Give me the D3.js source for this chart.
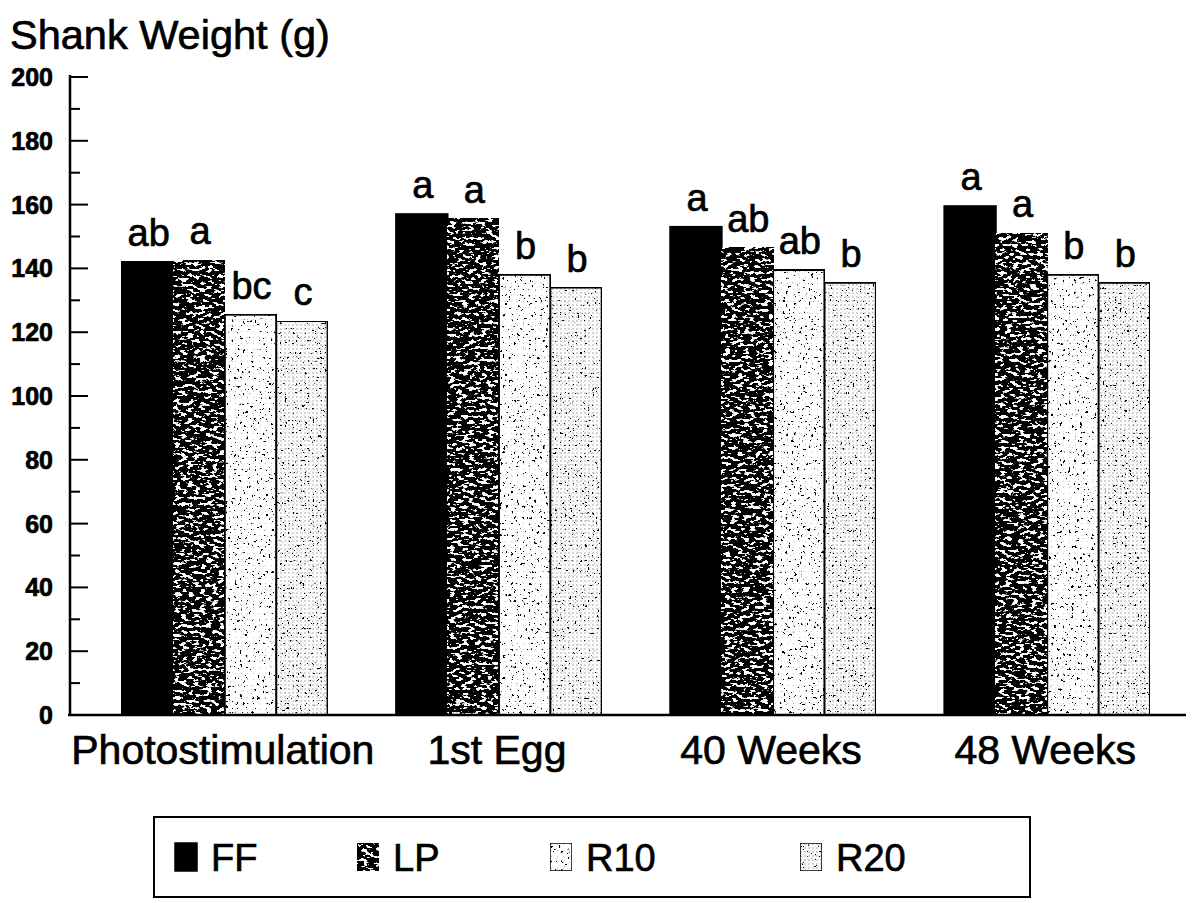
<!DOCTYPE html>
<html>
<head>
<meta charset="utf-8">
<script src="https://cdn.jsdelivr.net/npm/d3@7/dist/d3.min.js"></script>
<style>
  html, body { margin: 0; padding: 0; background: #fff; }
  svg { display: block; }
  text { font-family: "Liberation Sans", Arial, Helvetica, sans-serif; fill: #000; }
  text.heavy { stroke: #000; stroke-width: 0.7px; }
</style>
</head>
<body>
<svg id="chart" width="1193" height="903"></svg>
<script>
// Shank weight (g) by sampling age and feeding treatment
const ages = ["Photostimulation", "1st Egg", "40 Weeks", "48 Weeks"];
const treatments = ["FF", "LP", "R10", "R20"];

const ffWeight  = [142, 157, 153, 159.5];
const lpWeight  = [142.5, 155.5, 146.5, 151];
const r10Weight = [125.5, 138, 139.5, 138];
const r20Weight = [123.5, 134, 135.5, 135.5];

const ffLetters  = ["ab", "a", "a", "a"];
const lpLetters  = ["a", "a", "ab", "a"];
const r10Letters = ["bc", "b", "ab", "b"];
const r20Letters = ["c", "b", "b", "b"];

const yMajorTicks = [0, 20, 40, 60, 80, 100, 120, 140, 160, 180, 200];
const yMinorTicks = [10, 30, 50, 70, 90, 110, 130, 150, 170, 190];

const seriesValues = { FF: ffWeight, LP: lpWeight, R10: r10Weight, R20: r20Weight };
const seriesLetters = { FF: ffLetters, LP: lpLetters, R10: r10Letters, R20: r20Letters };

const rows = [];
ages.forEach((age, i) => {
  treatments.forEach(t => {
    rows.push({ age, treatment: t, value: seriesValues[t][i], letter: seriesLetters[t][i] });
  });
});

const svg = d3.select("#chart");

// ---- fills: solid, mottled, speckled, dotted ----
const defs = svg.append("defs");

// LP: black with small white mottles
const lpFilter = defs.append("filter").attr("id", "lp-tex")
  .attr("x", 0).attr("y", 0).attr("width", 1).attr("height", 1);
lpFilter.append("feTurbulence").attr("type", "fractalNoise")
  .attr("baseFrequency", "0.16 0.32").attr("numOctaves", 3).attr("seed", 7).attr("result", "noise");
lpFilter.append("feColorMatrix").attr("in", "noise").attr("type", "matrix")
  .attr("values", "0 0 0 0 1  0 0 0 0 1  0 0 0 0 1  -24 0 0 0 10.6").attr("result", "specks");
lpFilter.append("feComposite").attr("in", "specks").attr("in2", "SourceAlpha").attr("operator", "in").attr("result", "clipped");
const lpMerge = lpFilter.append("feMerge");
lpMerge.append("feMergeNode").attr("in", "SourceGraphic");
lpMerge.append("feMergeNode").attr("in", "clipped");

// sparse dark specks laid over a light fill
function speckFilter(id, freq, seed, gain, offset) {
  const f = defs.append("filter").attr("id", id)
    .attr("x", 0).attr("y", 0).attr("width", 1).attr("height", 1);
  f.append("feTurbulence").attr("type", "fractalNoise")
    .attr("baseFrequency", freq).attr("numOctaves", 2).attr("seed", seed).attr("result", "noise");
  f.append("feColorMatrix").attr("in", "noise").attr("type", "matrix")
    .attr("values", `0 0 0 0 0  0 0 0 0 0  0 0 0 0 0  ${gain} 0 0 0 ${offset}`).attr("result", "specks");
  f.append("feComposite").attr("in", "specks").attr("in2", "SourceAlpha").attr("operator", "in").attr("result", "clipped");
  const m = f.append("feMerge");
  m.append("feMergeNode").attr("in", "SourceGraphic");
  m.append("feMergeNode").attr("in", "clipped");
}
speckFilter("r10-tex", "0.35", 3, 30, -20.4);
speckFilter("r20-tex", "0.4", 11, 30, -20.7);

const r10Pat = defs.append("pattern").attr("id", "r10-dots")
  .attr("patternUnits", "userSpaceOnUse").attr("width", 6).attr("height", 6);
r10Pat.append("rect").attr("width", 6).attr("height", 6).attr("fill", "#fff");
r10Pat.append("circle").attr("cx", 1.5).attr("cy", 1.5).attr("r", 0.5).attr("fill", "#b0b0b0");

const r20Pat = defs.append("pattern").attr("id", "r20-dots")
  .attr("patternUnits", "userSpaceOnUse").attr("width", 4).attr("height", 4);
r20Pat.append("rect").attr("width", 4).attr("height", 4).attr("fill", "#fff");
r20Pat.append("circle").attr("cx", 1).attr("cy", 1).attr("r", 0.7).attr("fill", "#8a8a8a");
r20Pat.append("circle").attr("cx", 3).attr("cy", 3).attr("r", 0.45).attr("fill", "#c0c0c0");

const fillOf = { FF: "#000", LP: "#000", R10: "url(#r10-dots)", R20: "url(#r20-dots)" };
const filterOf = { FF: null, LP: "url(#lp-tex)", R10: "url(#r10-tex)", R20: "url(#r20-tex)" };

// ---- scales ----
const y = d3.scaleLinear().domain([0, 200]).range([715, 77]);
const x0 = d3.scaleBand().domain(ages).range([122, 1150]).paddingInner(0.25).paddingOuter(0);
const x1 = d3.scaleBand().domain(treatments).range([0, x0.bandwidth()]).padding(0);

// ---- bars ----
const bars = svg.append("g");
bars.selectAll("rect").data(rows).join("rect")
  .attr("x", d => x0(d.age) + x1(d.treatment))
  .attr("y", d => y(d.value))
  .attr("width", x1.bandwidth())
  .attr("height", d => y(0) - y(d.value))
  .attr("fill", d => fillOf[d.treatment])
  .attr("filter", d => filterOf[d.treatment])
  .attr("stroke", "#000")
  .attr("stroke-width", 2);

// ---- significance letters ----
svg.append("g").selectAll("text").data(rows).join("text")
  .attr("class", "heavy")
  .attr("x", d => x0(d.age) + x1(d.treatment) + x1.bandwidth() / 2 + 1)
  .attr("y", d => y(d.value) - 16)
  .attr("text-anchor", "middle")
  .attr("font-size", 38)
  .text(d => d.letter);

// ---- y axis ----
const yAxis = svg.append("g");
yAxis.append("line").attr("x1", 70).attr("x2", 70).attr("y1", y(200) - 2).attr("y2", y(0) + 1)
  .attr("stroke", "#000").attr("stroke-width", 2.5);
yAxis.selectAll("line.major").data(yMajorTicks.filter(v => v > 0)).join("line")
  .attr("class", "major")
  .attr("x1", 70).attr("x2", 88).attr("y1", d => y(d)).attr("y2", d => y(d))
  .attr("stroke", "#000").attr("stroke-width", 2);
yAxis.selectAll("line.minor").data(yMinorTicks).join("line")
  .attr("class", "minor")
  .attr("x1", 70).attr("x2", 80).attr("y1", d => y(d)).attr("y2", d => y(d))
  .attr("stroke", "#000").attr("stroke-width", 2);
yAxis.selectAll("text").data(yMajorTicks).join("text")
  .attr("class", "heavy")
  .attr("x", 53).attr("y", d => y(d)).attr("dy", "0.36em")
  .attr("text-anchor", "end")
  .attr("font-size", 25).attr("font-weight", "bold")
  .text(d => d);

// ---- x axis ----
svg.append("line").attr("x1", 68).attr("x2", 1186).attr("y1", y(0)).attr("y2", y(0))
  .attr("stroke", "#000").attr("stroke-width", 2.5);
svg.append("g").selectAll("text").data(ages).join("text")
  .attr("class", "heavy")
  .attr("x", d => x0(d) + x0.bandwidth() / 2 - 2)
  .attr("y", 764)
  .attr("text-anchor", "middle")
  .attr("font-size", 41)
  .text(d => d);

// ---- title ----
svg.append("text").attr("class", "heavy").attr("x", 10).attr("y", 49)
  .attr("font-size", 41.5)
  .text("Shank Weight (g)");

// ---- legend ----
const legend = svg.append("g");
legend.append("rect").attr("x", 154).attr("y", 817).attr("width", 876).attr("height", 80)
  .attr("fill", "#fff").attr("stroke", "#000").attr("stroke-width", 2);
const legendX = { FF: 175, LP: 357, R10: 550, R20: 800 };
const items = legend.selectAll("g").data(treatments).join("g")
  .attr("transform", d => `translate(${legendX[d]},843)`);
items.append("rect").attr("width", 22).attr("height", 28)
  .attr("fill", d => fillOf[d]).attr("filter", d => filterOf[d])
  .attr("stroke", "#000").attr("stroke-width", 1.5);
items.append("text").attr("class", "heavy").attr("x", 36).attr("y", 28)
  .attr("font-size", 38)
  .text(d => d);
</script>
</body>
</html>
